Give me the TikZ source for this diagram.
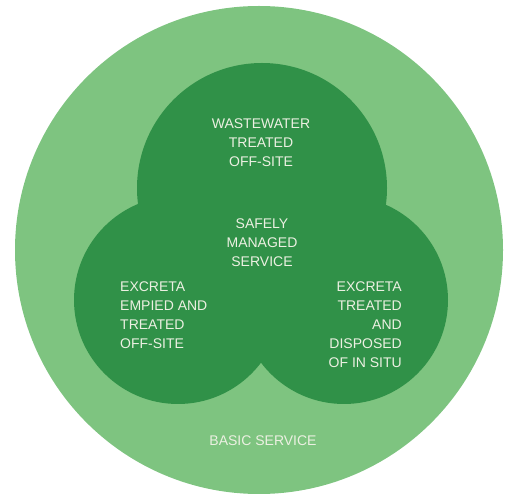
\documentclass[tikz,border=0pt]{standalone}
\usepackage{fontspec}
\setmainfont{Liberation Sans}
\definecolor{basiccolor}{RGB}{126, 196, 128}
\definecolor{safecolor}{RGB}{48, 145, 72}
\definecolor{labelcolor}{RGB}{236, 240, 226}
\tikzset{
  ring/.style={
    circle, inner sep=0pt,
    minimum size=488pt, fill=basiccolor
  },
  lobe/.style={
    circle, inner sep=0pt, fill=safecolor
  },
  lbl/.style={
    inner sep=0pt, text=labelcolor,
    font=\fontsize{14}{19}\selectfont
  }
}

\begin{document}
\begin{tikzpicture}[x=1pt, y=-1pt]

  \useasboundingbox (0,0) rectangle (509,494);

  % ── Basic service ──────────────────────────────────────────────
  \node[ring] (basic) at (259,250) {};

  % ── Safely managed lobes ───────────────────────────────────────
  \node[lobe, minimum size=250pt] (top)   at (262,188) {};
  \node[lobe, minimum size=208pt] (left)  at (178,300) {};
  \node[lobe, minimum size=208pt] (right) at (344,300) {};

  % ── Labels ─────────────────────────────────────────────────────
  \node[lbl, align=center] (wastewater) at (261,142.5)
    {WASTEWATER\\TREATED\\OFF-SITE};
  \node[lbl, align=center] (safely) at (262,243)
    {SAFELY\\MANAGED\\SERVICE};
  \node[lbl, align=left, anchor=west] (emptied) at (120,315)
    {EXCRETA\\EMPIED AND\\TREATED\\OFF-SITE};
  \node[lbl, align=right, anchor=east] (insitu) at (402,324.5)
    {EXCRETA\\TREATED\\AND\\DISPOSED\\OF IN SITU};
  \node[lbl] (basiclabel) at (263,441) {BASIC SERVICE};

\end{tikzpicture}
\end{document}
